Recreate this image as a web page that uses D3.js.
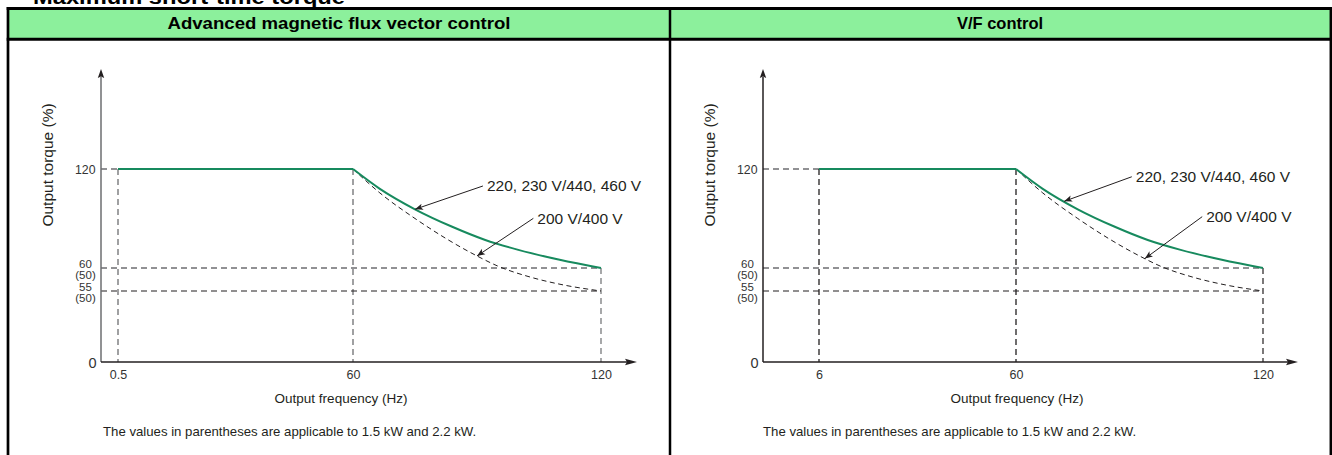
<!DOCTYPE html>
<html><head><meta charset="utf-8">
<script src="https://cdn.jsdelivr.net/npm/d3@7"></script>
<style>
html,body{margin:0;padding:0;background:#fff;}
svg{display:block;font-family:"Liberation Sans",Arial,Helvetica,sans-serif;}
</style></head><body>
<svg id="chart" width="1332" height="455"></svg>
<script>
// ---------- data ----------
const pageTitle = "Maximum short-time torque";
const panelTitles = ["Advanced magnetic flux vector control", "V/F control"];
const startFreqs = [0.5, 6];
const xTickValues = [[0.5, 60, 120], [6, 60, 120]];
const xTickLabels = [["0.5", "60", "120"], ["6", "60", "120"]];
const yTickValues = [0, 55, 60, 120];
const yTickLabels = [["0"], ["55", "(50)"], ["60", "(50)"], ["120"]];
const baseFreq = 60, maxFreq = 120;
const maxTorque = 120, ratedTorque = 60, lowTorque = 55;
const greenFreq = [60, 66.5, 75, 84, 92, 100, 110, 120];
const greenTorque = [120, 108, 95.6, 85, 77, 71, 65, 60];
const dashFreq = [60, 66.5, 75, 90, 95, 103, 111, 120];
const dashTorque = [120, 105.5, 90, 67.3, 61.2, 58, 56.3, 55];
const seriesLabels = ["220, 230 V/440, 460 V", "200 V/400 V"];
const xAxisTitle = "Output frequency (Hz)";
const yAxisTitle = "Output torque (%)";
const footnote = "The values in parentheses are applicable to 1.5 kW and 2.2 kW.";
// annotation points in data units: [panel][series]
const annTipFreq = [[75, 90], [71.7, 91.3]];
const annTipTorque = [[95.6, 67.3], [100.4, 65.7]];
const annLabelFreq = [[92.4, 104.6], [89.1, 106.2]];
const annLabelTorque = [[109.7, 90.1], [115.3, 91.1]];

// ---------- layout ----------
const W = 1332, H = 455;
const layouts = [
  { xr: [101, 118, 353, 601], xTip: 637, colCenter: 339, xTitleX: 341, footX: 103, yTitleX: 48, yAxisColor: "#6d6e71", startTone: "#6d6e71", midTone: "#6d6e71", endTone: "#6d6e71" },
  { xr: [763, 819, 1016, 1263], xTip: 1298, colCenter: 1000, xTitleX: 1017, footX: 763, yTitleX: 710, yAxisColor: "#231f20", startTone: "#231f20", midTone: "#231f20", endTone: "#231f20" }
];
const yr = [362, 291, 268, 169];
const yTip = 69;
const ink = "#231f20", gray = "#6d6e71", green = "#178a5e";

const svg = d3.select("#chart");
const defs = svg.append("defs");
defs.append("marker").attr("id", "tipArrow").attr("viewBox", "0 0 10 10")
  .attr("refX", 10).attr("refY", 5).attr("markerWidth", 8).attr("markerHeight", 8)
  .attr("markerUnits", "userSpaceOnUse").attr("orient", "auto")
  .append("path").attr("d", "M0,1 L10,5 L0,9 L2.5,5 Z").attr("fill", ink);

// ---------- table frame ----------
svg.append("text").attr("x", 33).attr("y", 4).attr("font-weight", "bold")
  .attr("font-size", 20).attr("textLength", 312).attr("lengthAdjust", "spacingAndGlyphs")
  .attr("fill", "#000").text(pageTitle);
svg.append("rect").attr("x", 8).attr("y", 8.5).attr("width", 1322.5).attr("height", 30.7).attr("fill", "#8cf09c");
const frame = svg.append("g").attr("stroke", "#000");
frame.append("line").attr("x1", 6.7).attr("x2", 1332).attr("y1", 8.5).attr("y2", 8.5).attr("stroke-width", 3);
frame.append("line").attr("x1", 6.7).attr("x2", 1332).attr("y1", 39.2).attr("y2", 39.2).attr("stroke-width", 3);
frame.append("line").attr("x1", 8).attr("x2", 8).attr("y1", 7).attr("y2", H).attr("stroke-width", 2.7);
frame.append("line").attr("x1", 670).attr("x2", 670).attr("y1", 7).attr("y2", H).attr("stroke-width", 2.5);
frame.append("line").attr("x1", 1330.8).attr("x2", 1330.8).attr("y1", 7).attr("y2", H).attr("stroke-width", 2.5);

const headerLen = [343, null];
panelTitles.forEach((t, i) => {
  const ht = svg.append("text").attr("x", layouts[i].colCenter).attr("y", 29)
    .attr("text-anchor", "middle").attr("font-weight", "bold").attr("font-size", 16.5)
    .attr("fill", "#000").text(t);
  if (headerLen[i]) ht.attr("textLength", headerLen[i]).attr("lengthAdjust", "spacingAndGlyphs");
});

// ---------- panels ----------
function drawPanel(i) {
  const L = layouts[i];
  const g = svg.append("g");
  const x = d3.scaleLinear().domain([0, startFreqs[i], baseFreq, maxFreq]).range(L.xr);
  const y = d3.scaleLinear().domain([0, lowTorque, ratedTorque, maxTorque]).range(yr);
  const x0 = x(0), y0 = y(0);

  // guide lines (dashed)
  const guides = [
    { f1: 0, t1: maxTorque, f2: startFreqs[i], t2: maxTorque, c: gray, w: 1.3, d: "6,4" },
    { f1: startFreqs[i], t1: maxTorque, f2: startFreqs[i], t2: 0, c: L.startTone, w: 1.3, d: "6,4" },
    { f1: baseFreq, t1: maxTorque, f2: baseFreq, t2: 0, c: L.midTone, w: 1.3, d: "6,4" },
    { f1: maxFreq, t1: ratedTorque, f2: maxFreq, t2: 0, c: L.endTone, w: 1.2, d: "6,4" },
    { f1: 0, t1: ratedTorque, f2: maxFreq, t2: ratedTorque, c: gray, w: 1.3, d: "6,4" },
    { f1: 0, t1: lowTorque, f2: maxFreq, t2: lowTorque, c: ink, w: 1.1, d: "6,4" }
  ];
  g.selectAll("line.guide").data(guides).join("line").attr("class", "guide")
    .attr("x1", d => x(d.f1)).attr("y1", d => y(d.t1))
    .attr("x2", d => x(d.f2)).attr("y2", d => y(d.t2))
    .attr("stroke", d => d.c).attr("stroke-width", d => d.w).attr("stroke-dasharray", d => d.d);

  // dashed 200V curve
  const dashPts = dashFreq.map((f, k) => [f, dashTorque[k]]);
  g.append("path").datum(dashPts)
    .attr("d", d3.line().x(d => x(d[0])).y(d => y(d[1])).curve(d3.curveMonotoneX))
    .attr("fill", "none").attr("stroke", ink).attr("stroke-width", 1).attr("stroke-dasharray", "5,3.5");

  // green curve: flat part + decay
  const flatPts = [[startFreqs[i], maxTorque], [baseFreq, maxTorque]];
  g.append("path").datum(flatPts)
    .attr("d", d3.line().x(d => x(d[0])).y(d => y(d[1])))
    .attr("fill", "none").attr("stroke", green).attr("stroke-width", 2);
  const greenPts = greenFreq.map((f, k) => [f, greenTorque[k]]);
  g.append("path").datum(greenPts)
    .attr("d", d3.line().x(d => x(d[0])).y(d => y(d[1])).curve(d3.curveMonotoneX))
    .attr("fill", "none").attr("stroke", green).attr("stroke-width", 2);

  // axes
  const xAxis = g.append("g").attr("transform", `translate(0,${y0})`)
    .call(d3.axisBottom(x).tickValues(xTickValues[i]).tickSize(0).tickPadding(8)
      .tickFormat((d, k) => xTickLabels[i][k]));
  xAxis.select(".domain").remove();
  xAxis.selectAll("text").attr("font-size", 12.5).attr("fill", "#333")
    .attr("font-family", '"Liberation Sans",Arial,sans-serif');

  const yAxis = g.append("g").attr("transform", `translate(${x0},0)`)
    .call(d3.axisLeft(y).tickValues(yTickValues).tickSize(0).tickFormat(""));
  yAxis.select(".domain").remove();
  yAxis.selectAll(".tick").each(function (d, k) {
    const lines = yTickLabels[k];
    const t = d3.select(this).select("text").attr("fill", "#333")
      .attr("font-family", '"Liberation Sans",Arial,sans-serif').attr("dy", null);
    if (lines.length === 1) {
      const big = d === 0;
      t.attr("x", big ? -4.5 : -5.5).attr("y", 0).attr("dy", "0.35em")
        .attr("font-size", big ? 14.5 : 12.3).attr("text-anchor", "end").text(lines[0]);
    } else {
      t.attr("x", -15.5).attr("y", 0).attr("text-anchor", "middle").attr("font-size", 11.5);
      t.selectAll("tspan").data(lines).join("tspan")
        .attr("x", -15.5).attr("y", (s, j) => j === 0 ? -0.8 : 10).text(s => s);
    }
  });

  // axis lines with arrows
  g.append("line").attr("x1", x0).attr("y1", y0).attr("x2", x0).attr("y2", yTip + 8)
    .attr("stroke", L.yAxisColor).attr("stroke-width", 1.5);
  g.append("path").attr("d", `M${x0},${yTip} L${x0 - 3.2},${yTip + 9} L${x0},${yTip + 7.5} L${x0 + 3.2},${yTip + 9} Z`)
    .attr("fill", ink);
  g.append("line").attr("x1", x0).attr("y1", y0).attr("x2", L.xTip - 8).attr("y2", y0)
    .attr("stroke", ink).attr("stroke-width", 1.5);
  g.append("path").attr("d", `M${L.xTip},${y0} L${L.xTip - 12},${y0 - 3.2} L${L.xTip - 10},${y0} L${L.xTip - 12},${y0 + 3.2} Z`)
    .attr("fill", ink);

  // annotations
  seriesLabels.forEach((lab, s) => {
    const tx = x(annTipFreq[i][s]), ty = y(annTipTorque[i][s]);
    const lx = x(annLabelFreq[i][s]), ly = y(annLabelTorque[i][s]);
    g.append("line").attr("x1", lx - 4).attr("y1", ly).attr("x2", tx).attr("y2", ty)
      .attr("stroke", ink).attr("stroke-width", 1).attr("marker-end", "url(#tipArrow)");
    g.append("text").attr("x", lx).attr("y", ly).attr("dy", "0.35em")
      .attr("font-size", 15.5).attr("fill", ink).text(lab);
  });

  // titles
  g.append("text").attr("x", L.xTitleX).attr("y", 398).attr("dy", "0.35em")
    .attr("text-anchor", "middle").attr("font-size", 13.5).attr("fill", ink).text(xAxisTitle);
  g.append("text").attr("transform", `translate(${L.yTitleX},165) rotate(-90)`)
    .attr("dy", "0.35em").attr("text-anchor", "middle").attr("font-size", 15.5)
    .attr("fill", ink).text(yAxisTitle);
  g.append("text").attr("x", L.footX).attr("y", 431).attr("dy", "0.35em")
    .attr("font-size", 13.2).attr("fill", ink).text(footnote);
}
drawPanel(0);
drawPanel(1);
</script>
</body></html>
